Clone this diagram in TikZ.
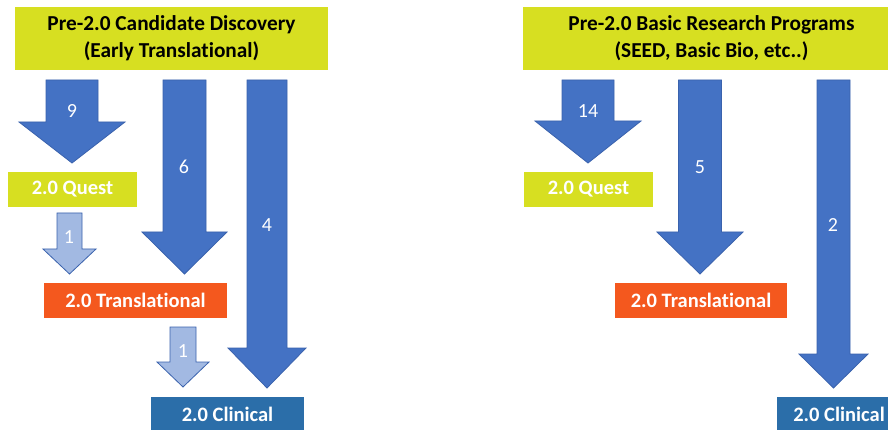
\documentclass[tikz,border=0pt]{standalone}
\usepackage{fontspec}
\setmainfont{Carlito}[Ligatures=NoCommon]
\definecolor{ylw}{HTML}{D7DF21}
\definecolor{org}{HTML}{F4581E}
\definecolor{clin}{HTML}{2B6EA9}
\definecolor{arr}{HTML}{4472C4}
\definecolor{arrline}{HTML}{3A62AD}
\definecolor{arrlight}{HTML}{A2B9E2}
\tikzset{
  titlebox/.style={fill=ylw, inner sep=0pt, align=center, text=black,
     font=\fontsize{21.3}{27}\selectfont\bfseries},
  lvlbox/.style={inner sep=0pt, text=white, font=\fontsize{20.5}{22}\selectfont\bfseries},
  questbox/.style={lvlbox, fill=ylw},
  transbox/.style={lvlbox, fill=org},
  clinbox/.style={lvlbox, fill=clin},
  bigarrow/.style={fill=arr, draw=arrline, line width=0.8pt, line join=miter},
  smallarrow/.style={fill=arrlight, draw=arrline, line width=0.8pt, line join=miter},
  numlbl/.style={text=white, inner sep=0pt, font=\fontsize{20}{22}\selectfont}
}
% #1 style, #2 centre x, #3 shaft half width, #4 head half width, #5 top y, #6 wing y, #7 tip y
\newcommand\blockarrow[7]{%
  \draw[#1] (#2-#3,#5) -- (#2+#3,#5) -- (#2+#3,#6) -- (#2+#4,#6) -- (#2,#7)
    -- (#2-#4,#6) -- (#2-#3,#6) -- cycle;}
\begin{document}
\begin{tikzpicture}[x=1pt,y=-1pt]
\useasboundingbox (0,0) rectangle (888,430);
\clip (0,0) rectangle (888,430);
\fill[white] (0,0) rectangle (888,430);

% ---- left group ----
\node[titlebox, minimum width=313pt, minimum height=63pt] (tL) at (171.5,38.5)
  {Pre-2.0 Candidate Discovery\\(Early Translational)};
\node[questbox, minimum width=129pt, minimum height=35pt] (qL) at (72.5,189.5) {2.0 Quest};
\node[transbox, minimum width=183pt, minimum height=35pt] (trL) at (135.5,300.5) {2.0 Translational};
\node[clinbox, minimum width=153pt, minimum height=35pt] (cL) at (227.5,414.5) {2.0 Clinical};

\blockarrow{bigarrow}{72}{26}{53}{80}{122}{163}
\blockarrow{bigarrow}{184.5}{21.5}{42.5}{80}{232}{274}
\blockarrow{bigarrow}{267}{20}{39}{80}{348}{388}
\blockarrow{smallarrow}{69.5}{12.5}{26.5}{213}{249}{274}
\blockarrow{smallarrow}{183}{13}{26}{327}{362}{387}

\node[numlbl] (n9) at (72,111) {9};
\node[numlbl] (n6) at (184,167) {6};
\node[numlbl] (n4) at (267,225) {4};
\node[numlbl] (n1a) at (69,237) {1};
\node[numlbl] (n1b) at (183,351) {1};

% ---- right group ----
\node[titlebox, minimum width=377pt, minimum height=63pt] (tR) at (711.5,38.5)
  {Pre-2.0 Basic Research Programs\\(SEED, Basic Bio, etc..)};
\node[questbox, minimum width=129pt, minimum height=35pt] (qR) at (588.5,189.5) {2.0 Quest};
\node[transbox, minimum width=172pt, minimum height=35pt] (trR) at (701,300.5) {2.0 Translational};
\node[clinbox, minimum width=124pt, minimum height=35pt] (cR) at (839,414.5) {2.0 Clinical};

\blockarrow{bigarrow}{588}{26}{53}{80}{121}{163}
\blockarrow{bigarrow}{700}{21.5}{43}{80}{232}{274}
\blockarrow{bigarrow}{833.5}{16.5}{34.5}{80}{354}{388}

\node[numlbl] (n14) at (588,111) {14};
\node[numlbl] (n5) at (700,167) {5};
\node[numlbl] (n2) at (833,225) {2};
\end{tikzpicture}
\end{document}
